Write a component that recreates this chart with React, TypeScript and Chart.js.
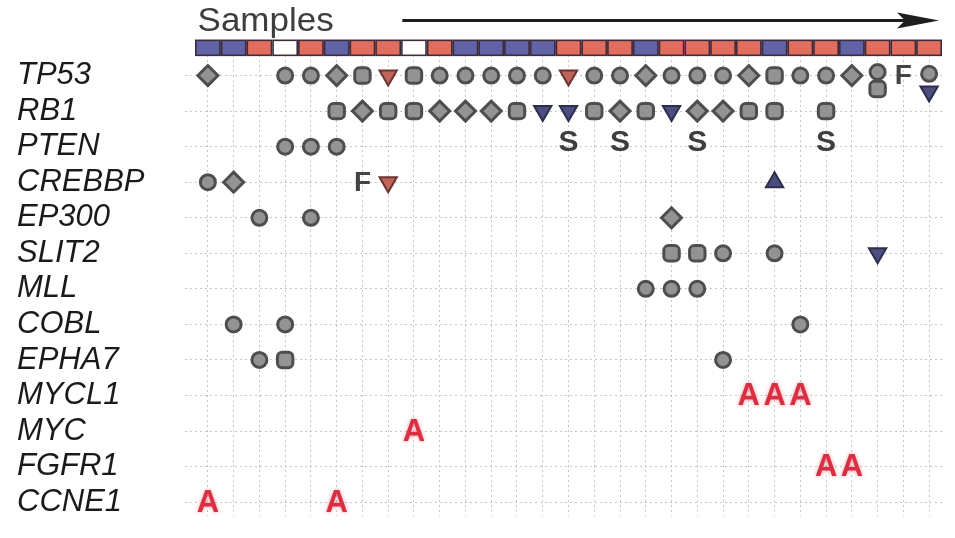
import React, { useEffect, useRef } from 'react';
import { Chart, registerables } from 'chart.js';

Chart.register(...registerables);

// ---- Data ----
const genes = ['TP53', 'RB1', 'PTEN', 'CREBBP', 'EP300', 'SLIT2', 'MLL', 'COBL', 'EPHA7', 'MYCL1', 'MYC', 'FGFR1', 'CCNE1'];

// sample group per column (B = blue, R = red, W = white)
const sampleGroups = ['B', 'B', 'R', 'W', 'R', 'B', 'R', 'R', 'W', 'R', 'B', 'B', 'B', 'B', 'R', 'R', 'R', 'B', 'R', 'R', 'R', 'R', 'B', 'R', 'R', 'B', 'R', 'R', 'R'];

// [gene, sample (1-based), lane offset within the row]
type Hit = [string, number, number];

const circleHits: Hit[] = [
  ['TP53', 4, 0], ['TP53', 5, 0], ['TP53', 10, 0], ['TP53', 11, 0], ['TP53', 12, 0], ['TP53', 13, 0], ['TP53', 14, 0],
  ['TP53', 16, 0], ['TP53', 17, 0], ['TP53', 19, 0], ['TP53', 20, 0], ['TP53', 21, 0], ['TP53', 24, 0], ['TP53', 25, 0],
  ['TP53', 27, -0.1], ['TP53', 29, -0.05],
  ['PTEN', 4, 0], ['PTEN', 5, 0], ['PTEN', 6, 0],
  ['CREBBP', 1, 0],
  ['EP300', 3, 0], ['EP300', 5, 0],
  ['SLIT2', 21, 0], ['SLIT2', 23, 0],
  ['MLL', 18, 0], ['MLL', 19, 0], ['MLL', 20, 0],
  ['COBL', 2, 0], ['COBL', 4, 0], ['COBL', 24, 0],
  ['EPHA7', 3, 0], ['EPHA7', 21, 0],
];

const diamondHits: Hit[] = [
  ['TP53', 1, 0], ['TP53', 6, 0], ['TP53', 18, 0], ['TP53', 22, 0], ['TP53', 26, 0],
  ['RB1', 7, 0], ['RB1', 10, 0], ['RB1', 11, 0], ['RB1', 12, 0], ['RB1', 17, 0], ['RB1', 20, 0], ['RB1', 21, 0],
  ['CREBBP', 2, 0],
  ['EP300', 19, 0],
];

const squareHits: Hit[] = [
  ['TP53', 7, 0], ['TP53', 9, 0], ['TP53', 23, 0], ['TP53', 27, 0.38],
  ['RB1', 6, 0], ['RB1', 8, 0], ['RB1', 9, 0], ['RB1', 13, 0], ['RB1', 16, 0], ['RB1', 18, 0], ['RB1', 22, 0], ['RB1', 23, 0], ['RB1', 25, 0],
  ['SLIT2', 19, 0], ['SLIT2', 20, 0],
  ['EPHA7', 4, 0],
];

const redDownHits: Hit[] = [
  ['TP53', 8, 0], ['TP53', 15, 0],
  ['CREBBP', 8, 0],
];

const blueDownHits: Hit[] = [
  ['TP53', 29, 0.45],
  ['RB1', 14, 0], ['RB1', 15, 0], ['RB1', 19, 0],
  ['SLIT2', 27, 0],
];

const blueUpHits: Hit[] = [
  ['CREBBP', 23, 0],
];

const frameshiftHits: Hit[] = [
  ['TP53', 28, 0], ['CREBBP', 7, 0],
];

const spliceHits: Hit[] = [
  ['PTEN', 15, -0.15], ['PTEN', 17, -0.15], ['PTEN', 20, -0.15], ['PTEN', 25, -0.15],
];

const ampHits: Hit[] = [
  ['MYCL1', 22, 0], ['MYCL1', 23, 0], ['MYCL1', 24, 0],
  ['MYC', 9, 0],
  ['FGFR1', 25, 0], ['FGFR1', 26, 0],
  ['CCNE1', 1, 0], ['CCNE1', 6, 0],
];

const headerLabel = 'Samples';
const sampleBarRow = 0.22;

// ---- helpers ----
const toPoints = (hits: Hit[]) =>
  hits.map(([g, s, lane]) => ({ x: s, y: genes.indexOf(g) + 1 + lane }));

const groupColors: Record<string, string> = { B: '#6063a5', R: '#e06d5e', W: '#ffffff' };

const FONT = '"Liberation Sans", Arial, Helvetica, sans-serif';

const headerPlugin = {
  id: 'headerPlugin',
  afterDraw(chart: any) {
    const { ctx, scales } = chart;
    const x = scales.x;
    const y = scales.y;
    const yc = y.getPixelForValue(sampleBarRow);
    const h = 15;
    ctx.save();
    sampleGroups.forEach((g, i) => {
      const x0 = x.getPixelForValue(i + 0.5);
      const x1 = x.getPixelForValue(i + 1.5);
      ctx.fillStyle = groupColors[g];
      ctx.fillRect(x0, yc - h / 2, x1 - x0, h);
    });
    ctx.strokeStyle = '#3e2c3c';
    ctx.lineWidth = 1.6;
    sampleGroups.forEach((g, i) => {
      const x0 = x.getPixelForValue(i + 0.5);
      const x1 = x.getPixelForValue(i + 1.5);
      ctx.strokeRect(x0 + 0.8, yc - h / 2, x1 - x0 - 1.6, h);
    });

    // "Samples" label
    ctx.fillStyle = '#3d3d3d';
    ctx.font = `33px ${FONT}`;
    ctx.textAlign = 'left';
    ctx.textBaseline = 'alphabetic';
    ctx.save();
    ctx.translate(x.getPixelForValue(0.6), 31);
    ctx.scale(1.06, 1);
    ctx.fillText(headerLabel, 0, 0);
    ctx.restore();

    // arrow
    const ay = 20.5;
    const ax0 = x.getPixelForValue(8.55);
    const ax1 = chart.chartArea.right - 3;
    ctx.strokeStyle = '#1e1e1e';
    ctx.lineWidth = 3.2;
    ctx.beginPath();
    ctx.moveTo(ax0, ay);
    ctx.lineTo(ax1 - 32, ay);
    ctx.stroke();
    ctx.fillStyle = '#1e1e1e';
    ctx.beginPath();
    ctx.moveTo(ax1, ay);
    ctx.lineTo(ax1 - 42, ay - 8);
    ctx.lineTo(ax1 - 34, ay);
    ctx.lineTo(ax1 - 42, ay + 8);
    ctx.closePath();
    ctx.fill();
    ctx.restore();
  },
};

const letterPlugin = {
  id: 'letterPlugin',
  afterDatasetsDraw(chart: any) {
    const { ctx } = chart;
    chart.data.datasets.forEach((ds: any, di: number) => {
      if (!ds.letter) return;
      const meta = chart.getDatasetMeta(di);
      ctx.save();
      ctx.font = ds.letterFont;
      ctx.fillStyle = ds.letterColor;
      ctx.textAlign = 'center';
      ctx.textBaseline = 'middle';
      if (ds.letterGlow) {
        ctx.shadowColor = ds.letterGlow;
        ctx.shadowBlur = 4;
      }
      meta.data.forEach((pt: any) => {
        ctx.fillText(ds.letter, pt.x, pt.y + 1);
      });
      ctx.restore();
    });
  },
};

const GRID = '#c6c6c6';
const GREY_FILL = '#939393';
const GREY_EDGE = '#4e4e4e';

export default function App() {
  const canvasRef = useRef<HTMLCanvasElement | null>(null);

  useEffect(() => {
    if (!canvasRef.current) return;
    const markerBase = { showLine: false, borderWidth: 3, pointHoverRadius: 0 };
    const chart = new Chart(canvasRef.current, {
      type: 'scatter',
      data: {
        datasets: [
          { ...markerBase, label: 'circle', data: toPoints(circleHits), pointStyle: 'circle', pointRadius: 7.5, backgroundColor: GREY_FILL, borderColor: GREY_EDGE },
          { ...markerBase, label: 'diamond', data: toPoints(diamondHits), pointStyle: 'rectRot', pointRadius: 10, backgroundColor: GREY_FILL, borderColor: GREY_EDGE },
          { ...markerBase, label: 'square', data: toPoints(squareHits), pointStyle: 'rectRounded', pointRadius: 9, backgroundColor: GREY_FILL, borderColor: GREY_EDGE },
          { ...markerBase, label: 'redDown', data: toPoints(redDownHits), pointStyle: 'triangle', pointRotation: 180, pointRadius: 10, backgroundColor: '#c0645a', borderColor: '#6a3434', borderWidth: 2 },
          { ...markerBase, label: 'blueDown', data: toPoints(blueDownHits), pointStyle: 'triangle', pointRotation: 180, pointRadius: 10, backgroundColor: '#4d4e80', borderColor: '#2d2d4c', borderWidth: 2 },
          { ...markerBase, label: 'blueUp', data: toPoints(blueUpHits), pointStyle: 'triangle', pointRadius: 10, backgroundColor: '#4d4e80', borderColor: '#2d2d4c', borderWidth: 2 },
          { ...markerBase, label: 'F', data: toPoints(frameshiftHits), pointRadius: 0, letter: 'F', letterFont: `bold 28px ${FONT}`, letterColor: '#444444' } as any,
          { ...markerBase, label: 'S', data: toPoints(spliceHits), pointRadius: 0, letter: 'S', letterFont: `bold 30px ${FONT}`, letterColor: '#3e3e3e' } as any,
          { ...markerBase, label: 'A', data: toPoints(ampHits), pointRadius: 0, letter: 'A', letterFont: `bold 31px ${FONT}`, letterColor: '#da2f42', letterGlow: 'rgba(235,90,110,0.6)' } as any,
        ],
      },
      options: {
        animation: false,
        responsive: false,
        devicePixelRatio: 1,
        events: [],
        layout: { padding: { left: 17, right: 7, top: 40, bottom: 7 } },
        plugins: {
          legend: { display: false },
          tooltip: { enabled: false },
          title: { display: false },
        },
        scales: {
          x: {
            type: 'linear',
            min: 0.5,
            max: 29.5,
            afterBuildTicks: (s: any) => {
              s.ticks = sampleGroups.map((_, i) => ({ value: i + 1 }));
            },
            afterFit: (s: any) => {
              s.height = 0;
            },
            ticks: { display: false },
            grid: { color: GRID, lineWidth: 1, drawTicks: false },
            border: { display: false, dash: [2, 3] },
          },
          y: {
            type: 'linear',
            reverse: true,
            min: 0,
            max: 13.4,
            afterBuildTicks: (s: any) => {
              s.ticks = genes.map((_, i) => ({ value: i + 1 }));
            },
            afterFit: (s: any) => {
              s.width = 178;
            },
            ticks: {
              autoSkip: false,
              crossAlign: 'far',
              color: '#1a1a1a',
              font: { family: FONT, size: 31, style: 'italic' },
              callback: (v: any) => genes[Math.round(v) - 1] ?? '',
            },
            grid: { color: GRID, lineWidth: 1, tickLength: 10, tickColor: GRID, tickBorderDash: [2, 3] },
            border: { display: false, dash: [2, 3] },
          },
        },
      } as any,
      plugins: [letterPlugin, headerPlugin],
    });
    return () => chart.destroy();
  }, []);

  return (
    <div style={{ position: 'absolute', left: 0, top: 0, width: 955, height: 538, background: '#ffffff' }}>
      <canvas ref={canvasRef} width={955} height={538} style={{ display: 'block' }} />
    </div>
  );
}
